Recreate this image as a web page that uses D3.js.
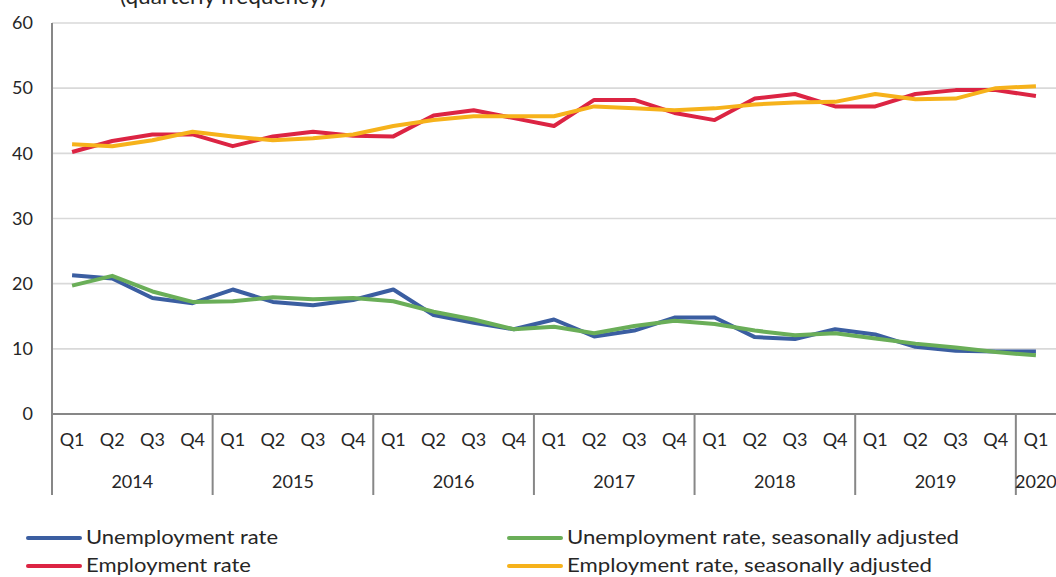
<!DOCTYPE html>
<html>
<head>
<meta charset="utf-8">
<script src="https://cdn.jsdelivr.net/npm/d3@7"></script>
<style>
  html, body { margin: 0; padding: 0; background: #fff; }
  svg { display: block; }
  text { font-family: Lato, "Open Sans", sans-serif; fill: #262626; }
</style>
</head>
<body>
<svg id="chart" width="1056" height="577"></svg>
<script>
// Quarterly labour market rates, 2014 Q1 – 2020 Q1 (percent)
const years = ["2014", "2015", "2016", "2017", "2018", "2019", "2020"];
const quarterNames = ["Q1", "Q2", "Q3", "Q4"];
const periods = [];
years.forEach(y => quarterNames.forEach(q => {
  if (y !== "2020" || q === "Q1") periods.push(y + " " + q);
}));

const unemployment = [21.3, 20.8, 17.8, 17.0, 19.1, 17.2, 16.7, 17.5, 19.1, 15.2, 14.0, 13.0,
                      14.5, 11.9, 12.8, 14.8, 14.8, 11.8, 11.5, 13.0, 12.2, 10.3, 9.7, 9.6, 9.6];
const unemploymentSA = [19.7, 21.2, 18.8, 17.2, 17.3, 17.9, 17.6, 17.8, 17.3, 15.7, 14.5, 13.0,
                        13.4, 12.4, 13.5, 14.3, 13.8, 12.8, 12.1, 12.4, 11.6, 10.8, 10.2, 9.5, 9.0];
const employment = [40.2, 41.9, 42.9, 42.9, 41.1, 42.6, 43.3, 42.7, 42.6, 45.8, 46.6, 45.4,
                    44.2, 48.2, 48.2, 46.2, 45.1, 48.4, 49.1, 47.2, 47.2, 49.1, 49.7, 49.7, 48.8];
const employmentSA = [41.4, 41.1, 42.0, 43.3, 42.6, 42.0, 42.3, 42.9, 44.2, 45.1, 45.7, 45.7,
                      45.7, 47.2, 46.9, 46.6, 46.9, 47.5, 47.8, 47.9, 49.1, 48.3, 48.4, 50.0, 50.3];

const yTicks = [0, 10, 20, 30, 40, 50, 60];

const series = [
  { name: "Unemployment rate", values: unemployment, color: "#3b5ea1" },
  { name: "Employment rate", values: employment, color: "#dc2443" },
  { name: "Unemployment rate, seasonally adjusted", values: unemploymentSA, color: "#6aae58" },
  { name: "Employment rate, seasonally adjusted", values: employmentSA, color: "#f6b21b" }
];

const svg = d3.select("#chart");
const plot = { left: 52, right: 1056, top: 23, bottom: 414 };

const x = d3.scaleBand().domain(periods).range([plot.left, plot.right]).padding(0);
const y = d3.scaleLinear().domain([0, 60]).range([plot.bottom, plot.top]);

// Title fragment at the very top
svg.append("text")
  .attr("x", 120).attr("y", 4)
  .attr("font-size", 22)
  .attr("textLength", 206).attr("lengthAdjust", "spacingAndGlyphs")
  .text("(quarterly frequency)");

// Horizontal gridlines
svg.append("g")
  .selectAll("line")
  .data(yTicks.filter(d => d > 0))
  .join("line")
  .attr("x1", plot.left).attr("x2", plot.right)
  .attr("y1", d => y(d)).attr("y2", d => y(d))
  .attr("stroke", "#d9d9d9").attr("stroke-width", 1.6);

// Y axis labels
const yAxis = d3.axisLeft(y).tickValues(yTicks).tickSize(0).tickPadding(19).tickFormat(d3.format("d"));
const gy = svg.append("g").attr("transform", `translate(${plot.left},0)`).call(yAxis);
gy.select(".domain").remove();
gy.selectAll("text").attr("font-size", 18).attr("font-family", "Lato, sans-serif").attr("fill", "#262626");

// Axis frame: left spine and baseline
const axisColor = "#878787";
svg.append("line")
  .attr("x1", plot.left).attr("x2", plot.left)
  .attr("y1", plot.top).attr("y2", 495)
  .attr("stroke", axisColor).attr("stroke-width", 2);
svg.append("line")
  .attr("x1", plot.left).attr("x2", plot.right)
  .attr("y1", plot.bottom).attr("y2", plot.bottom)
  .attr("stroke", axisColor).attr("stroke-width", 2);

// Quarter labels
const xAxis = d3.axisBottom(x).tickSize(0).tickPadding(19).tickFormat(d => d.split(" ")[1]);
const gx = svg.append("g").attr("transform", `translate(0,${plot.bottom})`).call(xAxis);
gx.select(".domain").remove();
gx.selectAll("text").attr("font-size", 18).attr("font-family", "Lato, sans-serif").attr("fill", "#262626");

// Year groups: separators and centred labels
const yearGroups = years.map(yr => {
  const ps = periods.filter(p => p.startsWith(yr));
  const x0 = x(ps[0]);
  const x1 = x(ps[ps.length - 1]) + x.bandwidth();
  return { yr, x0, x1 };
});
svg.append("g")
  .selectAll("line")
  .data(yearGroups.slice(1))
  .join("line")
  .attr("x1", d => d.x0).attr("x2", d => d.x0)
  .attr("y1", plot.bottom).attr("y2", 495)
  .attr("stroke", axisColor).attr("stroke-width", 2);
svg.append("g")
  .selectAll("text")
  .data(yearGroups)
  .join("text")
  .attr("x", d => (d.x0 + d.x1) / 2)
  .attr("y", 482)
  .attr("dy", "0.35em")
  .attr("text-anchor", "middle")
  .attr("font-size", 18)
  .text(d => d.yr);

// Series lines
const line = d3.line()
  .x((d, i) => x(periods[i]) + x.bandwidth() / 2)
  .y(d => y(d));

const drawOrder = [series[0], series[2], series[1], series[3]];
svg.append("g")
  .selectAll("path")
  .data(drawOrder)
  .join("path")
  .attr("d", d => line(d.values))
  .attr("fill", "none")
  .attr("stroke", d => d.color)
  .attr("stroke-width", 4)
  .attr("stroke-linejoin", "round");

// Legend
const legendItems = [
  { s: series[0], lx: 28, ty: 537, w: 192 },
  { s: series[1], lx: 28, ty: 565, w: 165 },
  { s: series[2], lx: 509, ty: 537, w: 392 },
  { s: series[3], lx: 509, ty: 565, w: 365 }
];
const lg = svg.append("g").selectAll("g").data(legendItems).join("g");
lg.append("line")
  .attr("x1", d => d.lx).attr("x2", d => d.lx + 52)
  .attr("y1", d => d.ty + 1).attr("y2", d => d.ty + 1)
  .attr("stroke", d => d.s.color).attr("stroke-width", 4).attr("stroke-linecap", "round");
lg.append("text")
  .attr("x", d => d.lx + 58)
  .attr("y", d => d.ty)
  .attr("dy", "0.33em")
  .attr("font-size", 20)
  .attr("textLength", d => d.w).attr("lengthAdjust", "spacingAndGlyphs")
  .text(d => d.s.name);
</script>
</body>
</html>
